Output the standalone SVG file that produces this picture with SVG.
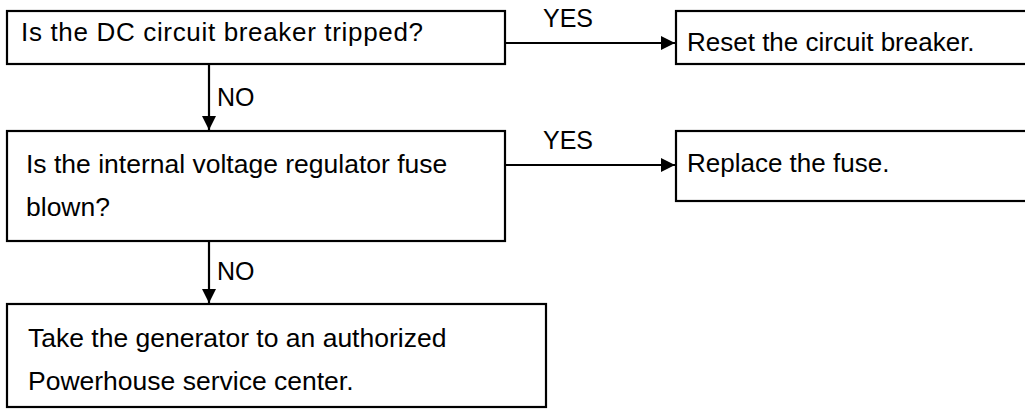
<svg xmlns="http://www.w3.org/2000/svg" width="1025" height="410" viewBox="0 0 1025 410">
  <style>
    .box { fill: #fff; stroke: #000; stroke-width: 2.2; }
    .txt { font-family: "Liberation Sans", Arial, sans-serif; font-size: 26px; fill: #000; }
    .big { font-size: 26.5px; }
    .lbl { font-family: "Liberation Sans", Arial, sans-serif; font-size: 25px; fill: #000; }
    .wire { fill: none; stroke: #000; stroke-width: 2.2; }
  </style>
  <defs>
    <marker id="head" viewBox="0 0 10 10" refX="10" refY="5" markerWidth="15" markerHeight="14" markerUnits="userSpaceOnUse" orient="auto">
      <path d="M0,0 L10,5 L0,10 Z" fill="#000"/>
    </marker>
  </defs>
  <rect width="1025" height="410" fill="#fff"/>

  <g id="q-breaker">
    <rect class="box" x="7" y="11" width="498" height="53"/>
    <text class="txt" x="21" y="41" textLength="402" lengthAdjust="spacing">Is the DC circuit breaker tripped?</text>
  </g>

  <g id="a-reset">
    <rect class="box" x="676" y="11" width="360" height="53"/>
    <text class="txt" x="687" y="51">Reset the circuit breaker.</text>
  </g>

  <g id="q-fuse">
    <rect class="box" x="7" y="131" width="498" height="110"/>
    <text class="txt big" x="26" y="173">Is the internal voltage regulator fuse</text>
    <text class="txt big" x="26" y="216">blown?</text>
  </g>

  <g id="a-replace">
    <rect class="box" x="676" y="131" width="360" height="70"/>
    <text class="txt" x="687" y="172">Replace the fuse.</text>
  </g>

  <g id="a-service">
    <rect class="box" x="7" y="304" width="539" height="103"/>
    <text class="txt big" x="28" y="347">Take the generator to an authorized</text>
    <text class="txt big" x="28" y="390">Powerhouse service center.</text>
  </g>

  <g id="connectors">
    <line class="wire" x1="505" y1="43" x2="675" y2="43" marker-end="url(#head)"/>
    <line class="wire" x1="505" y1="165" x2="675" y2="165" marker-end="url(#head)"/>
    <line class="wire" x1="209" y1="64" x2="209" y2="130" marker-end="url(#head)"/>
    <line class="wire" x1="209" y1="241" x2="209" y2="303" marker-end="url(#head)"/>
    <text class="lbl" x="543" y="27">YES</text>
    <text class="lbl" x="543" y="149">YES</text>
    <text class="lbl" x="217" y="106">NO</text>
    <text class="lbl" x="217" y="280">NO</text>
  </g>
</svg>
